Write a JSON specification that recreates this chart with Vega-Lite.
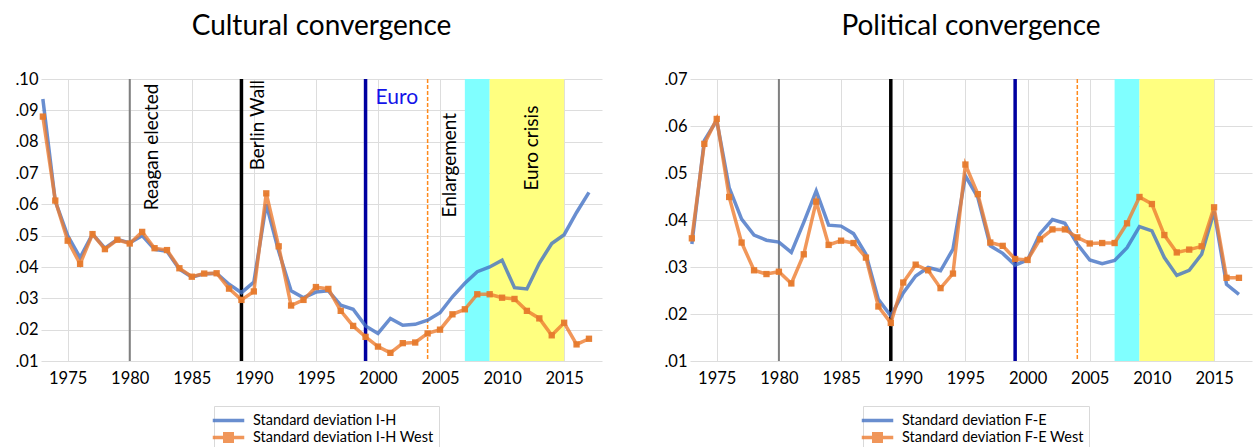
{
  "$schema": "https://vega.github.io/schema/vega-lite/v6.json",
  "background": "white",
  "padding": {"left": 14, "top": 13, "right": 5, "bottom": 0},
  "spacing": 61,
  "config": {
    "view": {"stroke": null},
    "font": "Lato",
    "axis": {"title": null, "ticks": false, "domain": false, "gridColor": "#DDDDDD", "gridWidth": 1, "labelFont": "Lato", "labelColor": "#000000", "labelFontSize": 16.5, "labelOverlap": false},
    "axisX": {"labelPadding": 9},
    "axisY": {"labelPadding": 3},
    "title": {"font": "Lato", "fontSize": 28, "fontWeight": "normal", "color": "#000000", "anchor": "middle", "frame": "group", "offset": 30},
    "legend": {"orient": "none", "legendX": 173, "legendY": 327, "title": null, "direction": "vertical", "labelFont": "Lato", "labelFontSize": 14.5, "labelLimit": 0, "labelColor": "#000000", "symbolSize": 225, "symbolStrokeWidth": 3.5, "symbolOpacity": 0.8, "strokeColor": "#D9D9D9", "fillColor": "white", "padding": 5, "labelOffset": 15, "rowPadding": -3}
  },
  "resolve": {"scale": {"color": "independent"}, "legend": {"color": "independent"}},
  "datasets": {
    "cultural": [
      {"year": 1973, "Standard deviation I-H": 0.0936, "Standard deviation I-H West": 0.0880},
      {"year": 1974, "Standard deviation I-H": 0.0610, "Standard deviation I-H West": 0.0612},
      {"year": 1975, "Standard deviation I-H": 0.0500, "Standard deviation I-H West": 0.0484},
      {"year": 1976, "Standard deviation I-H": 0.0430, "Standard deviation I-H West": 0.0410},
      {"year": 1977, "Standard deviation I-H": 0.0505, "Standard deviation I-H West": 0.0505},
      {"year": 1978, "Standard deviation I-H": 0.0460, "Standard deviation I-H West": 0.0457},
      {"year": 1979, "Standard deviation I-H": 0.0488, "Standard deviation I-H West": 0.0487},
      {"year": 1980, "Standard deviation I-H": 0.0477, "Standard deviation I-H West": 0.0475},
      {"year": 1981, "Standard deviation I-H": 0.0500, "Standard deviation I-H West": 0.0512},
      {"year": 1982, "Standard deviation I-H": 0.0456, "Standard deviation I-H West": 0.0460},
      {"year": 1983, "Standard deviation I-H": 0.0450, "Standard deviation I-H West": 0.0454},
      {"year": 1984, "Standard deviation I-H": 0.0393, "Standard deviation I-H West": 0.0396},
      {"year": 1985, "Standard deviation I-H": 0.0368, "Standard deviation I-H West": 0.0369},
      {"year": 1986, "Standard deviation I-H": 0.0378, "Standard deviation I-H West": 0.0379},
      {"year": 1987, "Standard deviation I-H": 0.0380, "Standard deviation I-H West": 0.0380},
      {"year": 1988, "Standard deviation I-H": 0.0345, "Standard deviation I-H West": 0.0331},
      {"year": 1989, "Standard deviation I-H": 0.0318, "Standard deviation I-H West": 0.0295},
      {"year": 1990, "Standard deviation I-H": 0.0352, "Standard deviation I-H West": 0.0322},
      {"year": 1991, "Standard deviation I-H": 0.0600, "Standard deviation I-H West": 0.0635},
      {"year": 1992, "Standard deviation I-H": 0.0450, "Standard deviation I-H West": 0.0466},
      {"year": 1993, "Standard deviation I-H": 0.0324, "Standard deviation I-H West": 0.0277},
      {"year": 1994, "Standard deviation I-H": 0.0302, "Standard deviation I-H West": 0.0295},
      {"year": 1995, "Standard deviation I-H": 0.0320, "Standard deviation I-H West": 0.0336},
      {"year": 1996, "Standard deviation I-H": 0.0324, "Standard deviation I-H West": 0.0330},
      {"year": 1997, "Standard deviation I-H": 0.0278, "Standard deviation I-H West": 0.0260},
      {"year": 1998, "Standard deviation I-H": 0.0265, "Standard deviation I-H West": 0.0212},
      {"year": 1999, "Standard deviation I-H": 0.0212, "Standard deviation I-H West": 0.0177},
      {"year": 2000, "Standard deviation I-H": 0.0188, "Standard deviation I-H West": 0.0146},
      {"year": 2001, "Standard deviation I-H": 0.0236, "Standard deviation I-H West": 0.0126},
      {"year": 2002, "Standard deviation I-H": 0.0214, "Standard deviation I-H West": 0.0157},
      {"year": 2003, "Standard deviation I-H": 0.0217, "Standard deviation I-H West": 0.0159},
      {"year": 2004, "Standard deviation I-H": 0.0230, "Standard deviation I-H West": 0.0188},
      {"year": 2005, "Standard deviation I-H": 0.0254, "Standard deviation I-H West": 0.0200},
      {"year": 2006, "Standard deviation I-H": 0.0305, "Standard deviation I-H West": 0.0249},
      {"year": 2007, "Standard deviation I-H": 0.0348, "Standard deviation I-H West": 0.0265},
      {"year": 2008, "Standard deviation I-H": 0.0385, "Standard deviation I-H West": 0.0313},
      {"year": 2009, "Standard deviation I-H": 0.0400, "Standard deviation I-H West": 0.0313},
      {"year": 2010, "Standard deviation I-H": 0.0422, "Standard deviation I-H West": 0.0302},
      {"year": 2011, "Standard deviation I-H": 0.0334, "Standard deviation I-H West": 0.0298},
      {"year": 2012, "Standard deviation I-H": 0.0330, "Standard deviation I-H West": 0.0260},
      {"year": 2013, "Standard deviation I-H": 0.0412, "Standard deviation I-H West": 0.0236},
      {"year": 2014, "Standard deviation I-H": 0.0475, "Standard deviation I-H West": 0.0182},
      {"year": 2015, "Standard deviation I-H": 0.0503, "Standard deviation I-H West": 0.0222},
      {"year": 2016, "Standard deviation I-H": 0.0574, "Standard deviation I-H West": 0.0153},
      {"year": 2017, "Standard deviation I-H": 0.0638, "Standard deviation I-H West": 0.0171}
    ],
    "political": [
      {"year": 1973, "Standard deviation F-E": 0.0349, "Standard deviation F-E West": 0.0361},
      {"year": 1974, "Standard deviation F-E": 0.0569, "Standard deviation F-E West": 0.0562},
      {"year": 1975, "Standard deviation F-E": 0.0612, "Standard deviation F-E West": 0.0615},
      {"year": 1976, "Standard deviation F-E": 0.0469, "Standard deviation F-E West": 0.0449},
      {"year": 1977, "Standard deviation F-E": 0.0402, "Standard deviation F-E West": 0.0352},
      {"year": 1978, "Standard deviation F-E": 0.0368, "Standard deviation F-E West": 0.0293},
      {"year": 1979, "Standard deviation F-E": 0.0357, "Standard deviation F-E West": 0.0285},
      {"year": 1980, "Standard deviation F-E": 0.0353, "Standard deviation F-E West": 0.0290},
      {"year": 1981, "Standard deviation F-E": 0.0331, "Standard deviation F-E West": 0.0265},
      {"year": 1982, "Standard deviation F-E": 0.0395, "Standard deviation F-E West": 0.0327},
      {"year": 1983, "Standard deviation F-E": 0.0462, "Standard deviation F-E West": 0.0439},
      {"year": 1984, "Standard deviation F-E": 0.0389, "Standard deviation F-E West": 0.0347},
      {"year": 1985, "Standard deviation F-E": 0.0387, "Standard deviation F-E West": 0.0356},
      {"year": 1986, "Standard deviation F-E": 0.0371, "Standard deviation F-E West": 0.0351},
      {"year": 1987, "Standard deviation F-E": 0.0327, "Standard deviation F-E West": 0.0320},
      {"year": 1988, "Standard deviation F-E": 0.0231, "Standard deviation F-E West": 0.0216},
      {"year": 1989, "Standard deviation F-E": 0.0196, "Standard deviation F-E West": 0.0181},
      {"year": 1990, "Standard deviation F-E": 0.0245, "Standard deviation F-E West": 0.0267},
      {"year": 1991, "Standard deviation F-E": 0.0281, "Standard deviation F-E West": 0.0305},
      {"year": 1992, "Standard deviation F-E": 0.0299, "Standard deviation F-E West": 0.0293},
      {"year": 1993, "Standard deviation F-E": 0.0292, "Standard deviation F-E West": 0.0255},
      {"year": 1994, "Standard deviation F-E": 0.0338, "Standard deviation F-E West": 0.0286},
      {"year": 1995, "Standard deviation F-E": 0.0494, "Standard deviation F-E West": 0.0518},
      {"year": 1996, "Standard deviation F-E": 0.0448, "Standard deviation F-E West": 0.0455},
      {"year": 1997, "Standard deviation F-E": 0.0345, "Standard deviation F-E West": 0.0352},
      {"year": 1998, "Standard deviation F-E": 0.0329, "Standard deviation F-E West": 0.0345},
      {"year": 1999, "Standard deviation F-E": 0.0304, "Standard deviation F-E West": 0.0317},
      {"year": 2000, "Standard deviation F-E": 0.0315, "Standard deviation F-E West": 0.0315},
      {"year": 2001, "Standard deviation F-E": 0.0371, "Standard deviation F-E West": 0.0359},
      {"year": 2002, "Standard deviation F-E": 0.0401, "Standard deviation F-E West": 0.0380},
      {"year": 2003, "Standard deviation F-E": 0.0393, "Standard deviation F-E West": 0.0380},
      {"year": 2004, "Standard deviation F-E": 0.0349, "Standard deviation F-E West": 0.0363},
      {"year": 2005, "Standard deviation F-E": 0.0315, "Standard deviation F-E West": 0.0350},
      {"year": 2006, "Standard deviation F-E": 0.0307, "Standard deviation F-E West": 0.0351},
      {"year": 2007, "Standard deviation F-E": 0.0314, "Standard deviation F-E West": 0.0351},
      {"year": 2008, "Standard deviation F-E": 0.0341, "Standard deviation F-E West": 0.0393},
      {"year": 2009, "Standard deviation F-E": 0.0386, "Standard deviation F-E West": 0.0449},
      {"year": 2010, "Standard deviation F-E": 0.0377, "Standard deviation F-E West": 0.0434},
      {"year": 2011, "Standard deviation F-E": 0.0320, "Standard deviation F-E West": 0.0368},
      {"year": 2012, "Standard deviation F-E": 0.0282, "Standard deviation F-E West": 0.0331},
      {"year": 2013, "Standard deviation F-E": 0.0293, "Standard deviation F-E West": 0.0337},
      {"year": 2014, "Standard deviation F-E": 0.0327, "Standard deviation F-E West": 0.0344},
      {"year": 2015, "Standard deviation F-E": 0.0418, "Standard deviation F-E West": 0.0427},
      {"year": 2016, "Standard deviation F-E": 0.0263, "Standard deviation F-E West": 0.0277},
      {"year": 2017, "Standard deviation F-E": 0.0242, "Standard deviation F-E West": 0.0277}
    ],
    "events": [
      {"year": 1980, "kind": "reagan"},
      {"year": 1989, "kind": "berlin"},
      {"year": 1999, "kind": "euro"},
      {"year": 2004, "kind": "enlargement"}
    ],
    "bands": [
      {"start": 2007, "end": 2009, "kind": "enlargement"},
      {"start": 2009, "end": 2015, "kind": "crisis"}
    ],
    "labels": [
      {"label": "Reagan elected", "year": 1980, "top": 0.0985},
      {"label": "Berlin Wall", "year": 1989, "top": 0.0997},
      {"label": "Euro", "year": 1999, "top": 0.0921},
      {"label": "Enlargement", "year": 2004, "top": 0.0892},
      {"label": "Euro crisis", "year": 2009, "top": 0.0915}
    ]
  },
  "hconcat": [
    {
      "width": 561,
      "height": 282,
      "title": {"text": "Cultural convergence"},
      "layer": [
        {"data": {"name": "bands"}, "transform": [{"filter": "datum.kind === 'enlargement'"}], "mark": {"type": "rect", "color": "#80FFFF"},
         "encoding": {"x": {"field": "start", "type": "quantitative", "scale": {"domain": [1972.85, 2018.05], "nice": false, "zero": false}, "axis": {"values": [1975, 1980, 1985, 1990, 1995, 2000, 2005, 2010, 2015], "format": "d", "labelOverlap": false}}, "x2": {"field": "end"}}},
        {"data": {"name": "bands"}, "transform": [{"filter": "datum.kind === 'crisis'"}], "mark": {"type": "rect", "color": "#FFFF80"},
         "encoding": {"x": {"field": "start", "type": "quantitative"}, "x2": {"field": "end"}}},
        {"data": {"name": "events"}, "transform": [{"filter": "datum.kind === 'reagan'"}], "mark": {"type": "rule", "color": "#808080", "strokeWidth": 2},
         "encoding": {"x": {"field": "year", "type": "quantitative"}}},
        {"data": {"name": "events"}, "transform": [{"filter": "datum.kind === 'berlin'"}], "mark": {"type": "rule", "color": "#000000", "strokeWidth": 3.5},
         "encoding": {"x": {"field": "year", "type": "quantitative"}}},
        {"data": {"name": "events"}, "transform": [{"filter": "datum.kind === 'euro'"}], "mark": {"type": "rule", "color": "#0000A0", "strokeWidth": 3.5},
         "encoding": {"x": {"field": "year", "type": "quantitative"}}},
        {"data": {"name": "events"}, "transform": [{"filter": "datum.kind === 'enlargement'"}], "mark": {"type": "rule", "color": "#FF8A1C", "strokeWidth": 1.5, "strokeDash": [4, 2]},
         "encoding": {"x": {"field": "year", "type": "quantitative"}}},
        {"data": {"name": "cultural"}, "transform": [{"fold": ["Standard deviation I-H", "Standard deviation I-H West"], "as": ["series", "value"]}],
         "mark": {"type": "line", "strokeWidth": 3.5, "strokeOpacity": 0.8},
         "encoding": {
           "x": {"field": "year", "type": "quantitative"},
           "y": {"field": "value", "type": "quantitative", "scale": {"domain": [0.01, 0.1], "nice": false, "zero": false}, "axis": {"values": [0.01, 0.02, 0.03, 0.04, 0.05, 0.06, 0.07, 0.08, 0.09, 0.1], "labelOverlap": false, "labelExpr": "replace(format(datum.value, '.2f'), '0.', '.')"}},
           "color": {"field": "series", "type": "nominal", "scale": {"domain": ["Standard deviation I-H", "Standard deviation I-H West"], "range": ["#4472C4", "#ED7D31"]},
             "legend": {"encode": {"symbols": {"update": {"shape": {"signal": "datum.value === 'Standard deviation I-H West' ? 'M-2.1,0H2.1M-0.5,-0.5H0.5V0.5H-0.5Z' : 'M-2.1,0H2.1'"}, "fill": {"signal": "datum.value === 'Standard deviation I-H West' ? '#E67A2D' : 'transparent'"}}}}}}
         }},
        {"data": {"name": "cultural"}, "mark": {"type": "point", "shape": "square", "filled": true, "size": 40, "color": "#E67A2D", "opacity": 0.95},
         "encoding": {"x": {"field": "year", "type": "quantitative"}, "y": {"field": "Standard deviation I-H West", "type": "quantitative", "axis": {"values": [0.01, 0.02, 0.03, 0.04, 0.05, 0.06, 0.07, 0.08, 0.09, 0.1], "labelOverlap": false, "labelExpr": "replace(format(datum.value, '.2f'), '0.', '.')"}}}},
        {"data": {"name": "labels"}, "transform": [{"filter": "datum.label === 'Reagan elected' || datum.label === 'Enlargement'"}], "mark": {"type": "text", "angle": 270, "align": "right", "baseline": "top", "dy": 13, "fontSize": 19, "font": "Lato", "color": "#000000"},
         "encoding": {"x": {"field": "year", "type": "quantitative"}, "y": {"field": "top", "type": "quantitative", "axis": {"values": [0.01, 0.02, 0.03, 0.04, 0.05, 0.06, 0.07, 0.08, 0.09, 0.1], "labelOverlap": false, "labelExpr": "replace(format(datum.value, '.2f'), '0.', '.')"}}, "text": {"field": "label"}}},
        {"data": {"name": "labels"}, "transform": [{"filter": "datum.label === 'Berlin Wall'"}], "mark": {"type": "text", "angle": 270, "align": "right", "baseline": "top", "dy": 8, "fontSize": 19, "font": "Lato", "color": "#000000"},
         "encoding": {"x": {"field": "year", "type": "quantitative"}, "y": {"field": "top", "type": "quantitative", "axis": {"values": [0.01, 0.02, 0.03, 0.04, 0.05, 0.06, 0.07, 0.08, 0.09, 0.1], "labelOverlap": false, "labelExpr": "replace(format(datum.value, '.2f'), '0.', '.')"}}, "text": {"field": "label"}}},
        {"data": {"name": "labels"}, "transform": [{"filter": "datum.label === 'Euro crisis'"}], "mark": {"type": "text", "angle": 270, "align": "right", "baseline": "top", "dy": 33, "fontSize": 19, "font": "Lato", "color": "#000000"},
         "encoding": {"x": {"field": "year", "type": "quantitative"}, "y": {"field": "top", "type": "quantitative", "axis": {"values": [0.01, 0.02, 0.03, 0.04, 0.05, 0.06, 0.07, 0.08, 0.09, 0.1], "labelOverlap": false, "labelExpr": "replace(format(datum.value, '.2f'), '0.', '.')"}}, "text": {"field": "label"}}},
        {"data": {"name": "labels"}, "transform": [{"filter": "datum.label === 'Euro'"}], "mark": {"type": "text", "align": "left", "baseline": "alphabetic", "dx": 10, "fontSize": 21, "font": "Lato", "color": "#1414E8"},
         "encoding": {"x": {"field": "year", "type": "quantitative"}, "y": {"field": "top", "type": "quantitative", "axis": {"values": [0.01, 0.02, 0.03, 0.04, 0.05, 0.06, 0.07, 0.08, 0.09, 0.1], "labelOverlap": false, "labelExpr": "replace(format(datum.value, '.2f'), '0.', '.')"}}, "text": {"field": "label"}}}
      ]
    },
    {
      "width": 562,
      "height": 282,
      "title": {"text": "Political convergence"},
      "layer": [
        {"data": {"name": "bands"}, "transform": [{"filter": "datum.kind === 'enlargement'"}], "mark": {"type": "rect", "color": "#80FFFF"},
         "encoding": {"x": {"field": "start", "type": "quantitative", "scale": {"domain": [1972.85, 2018.05], "nice": false, "zero": false}, "axis": {"values": [1975, 1980, 1985, 1990, 1995, 2000, 2005, 2010, 2015], "format": "d", "labelOverlap": false}}, "x2": {"field": "end"}}},
        {"data": {"name": "bands"}, "transform": [{"filter": "datum.kind === 'crisis'"}], "mark": {"type": "rect", "color": "#FFFF80"},
         "encoding": {"x": {"field": "start", "type": "quantitative"}, "x2": {"field": "end"}}},
        {"data": {"name": "events"}, "transform": [{"filter": "datum.kind === 'reagan'"}], "mark": {"type": "rule", "color": "#808080", "strokeWidth": 2},
         "encoding": {"x": {"field": "year", "type": "quantitative"}}},
        {"data": {"name": "events"}, "transform": [{"filter": "datum.kind === 'berlin'"}], "mark": {"type": "rule", "color": "#000000", "strokeWidth": 3.5},
         "encoding": {"x": {"field": "year", "type": "quantitative"}}},
        {"data": {"name": "events"}, "transform": [{"filter": "datum.kind === 'euro'"}], "mark": {"type": "rule", "color": "#0000A0", "strokeWidth": 3.5},
         "encoding": {"x": {"field": "year", "type": "quantitative"}}},
        {"data": {"name": "events"}, "transform": [{"filter": "datum.kind === 'enlargement'"}], "mark": {"type": "rule", "color": "#FF8A1C", "strokeWidth": 1.5, "strokeDash": [4, 2]},
         "encoding": {"x": {"field": "year", "type": "quantitative"}}},
        {"data": {"name": "political"}, "transform": [{"fold": ["Standard deviation F-E", "Standard deviation F-E West"], "as": ["series", "value"]}],
         "mark": {"type": "line", "strokeWidth": 3.5, "strokeOpacity": 0.8},
         "encoding": {
           "x": {"field": "year", "type": "quantitative"},
           "y": {"field": "value", "type": "quantitative", "scale": {"domain": [0.01, 0.07], "nice": false, "zero": false}, "axis": {"values": [0.01, 0.02, 0.03, 0.04, 0.05, 0.06, 0.07], "labelOverlap": false, "labelExpr": "replace(format(datum.value, '.2f'), '0.', '.')"}},
           "color": {"field": "series", "type": "nominal", "scale": {"domain": ["Standard deviation F-E", "Standard deviation F-E West"], "range": ["#4472C4", "#ED7D31"]},
             "legend": {"encode": {"symbols": {"update": {"shape": {"signal": "datum.value === 'Standard deviation F-E West' ? 'M-2.1,0H2.1M-0.5,-0.5H0.5V0.5H-0.5Z' : 'M-2.1,0H2.1'"}, "fill": {"signal": "datum.value === 'Standard deviation F-E West' ? '#E67A2D' : 'transparent'"}}}}}}
         }},
        {"data": {"name": "political"}, "mark": {"type": "point", "shape": "square", "filled": true, "size": 40, "color": "#E67A2D", "opacity": 0.95},
         "encoding": {"x": {"field": "year", "type": "quantitative"}, "y": {"field": "Standard deviation F-E West", "type": "quantitative"}}}
      ]
    }
  ]
}
